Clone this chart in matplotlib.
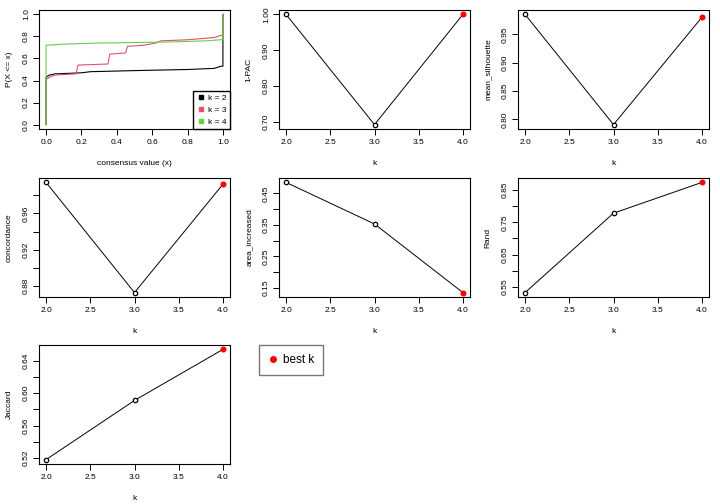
import matplotlib
matplotlib.use("Agg")
import matplotlib.pyplot as plt
from matplotlib.lines import Line2D

# k values and the per-k statistics
k = [2, 3, 4]
best_k = 4
stats = {
    "1-PAC": [1.00, 0.693, 1.00],
    "mean_silhouette": [0.985, 0.791, 0.980],
    "concordance": [0.994, 0.873, 0.992],
    "area_increased": [0.485, 0.353, 0.135],
    "Rand": [0.533, 0.778, 0.873],
    "Jaccard": [0.518, 0.591, 0.654],
}
yticks = {
    "1-PAC": [0.70, 0.80, 0.90, 1.00],
    "mean_silhouette": [0.80, 0.85, 0.90, 0.95],
    "concordance": [0.88, 0.90, 0.92, 0.94, 0.96, 0.98],
    "area_increased": [0.15, 0.20, 0.25, 0.30, 0.35, 0.40, 0.45],
    "Rand": [0.55, 0.60, 0.65, 0.70, 0.75, 0.80, 0.85],
    "Jaccard": [0.52, 0.54, 0.56, 0.58, 0.60, 0.62, 0.64],
}
ylabs = {
    "1-PAC": [0.70, 0.80, 0.90, 1.00],
    "mean_silhouette": [0.80, 0.85, 0.90, 0.95],
    "concordance": [0.88, 0.92, 0.96],
    "area_increased": [0.15, 0.25, 0.35, 0.45],
    "Rand": [0.55, 0.65, 0.75, 0.85],
    "Jaccard": [0.52, 0.56, 0.60, 0.64],
}

# ECDF of consensus values
k2_x = [0, 0, 0.02, 0.05, 0.2, 0.25, 0.5, 0.8, 0.95, 0.99, 1.0, 1.0]
k2_y = [0, 0.43, 0.45, 0.46, 0.47, 0.48, 0.49, 0.50, 0.51, 0.53, 0.53, 1.0]
k3_x = [0, 0, 0.02, 0.05, 0.17, 0.18, 0.35, 0.36, 0.45, 0.46, 0.55, 0.62, 0.65, 0.8, 0.95, 0.99, 1.0, 1.0]
k3_y = [0, 0.41, 0.43, 0.45, 0.46, 0.54, 0.55, 0.64, 0.65, 0.71, 0.72, 0.74, 0.76, 0.77, 0.79, 0.81, 0.81, 1.0]
k4_x = [0, 0, 0.1, 0.3, 0.5, 0.7, 0.9, 0.99, 1.0, 1.0]
k4_y = [0, 0.72, 0.73, 0.74, 0.745, 0.75, 0.76, 0.77, 0.77, 1.0]

plt.rcParams['font.family'] = 'Liberation Sans'
plt.rcParams['font.size'] = 6
plt.rcParams['axes.linewidth'] = 0.8
plt.rcParams['xtick.major.size'] = 4
plt.rcParams['ytick.major.size'] = 4
plt.rcParams['xtick.major.width'] = 0.7
plt.rcParams['ytick.major.width'] = 0.7

W, H = 720, 504
fig = plt.figure(figsize=(7.2, 5.04), dpi=100)

lefts = [39, 279, 518]
tops = [10, 178, 345]
pw, ph = 191, 119


def make_ax(row, col):
    l = lefts[col]
    t = tops[row]
    ax = fig.add_axes([l / W, 1 - (t + ph) / H, pw / W, ph / H])
    ax.tick_params(axis='y', labelrotation=90, pad=2.5)
    ax.tick_params(axis='x', pad=3.5)
    return ax


# panel 1: ECDF
ax = make_ax(0, 0)
ax.plot(k2_x, k2_y, color='black', lw=0.8)
ax.plot(k3_x, k3_y, color='#DF536B', lw=0.8)
ax.plot(k4_x, k4_y, color='#61D04F', lw=0.8)
ax.set_xlim(-0.04, 1.04)
ax.set_ylim(-0.04, 1.04)
ax.set_xticks([0, 0.2, 0.4, 0.6, 0.8, 1.0])
ax.set_yticks([0, 0.2, 0.4, 0.6, 0.8, 1.0])
ax.set_xticklabels(['0.0', '0.2', '0.4', '0.6', '0.8', '1.0'])
ax.set_yticklabels(['0.0', '0.2', '0.4', '0.6', '0.8', '1.0'], va='center')
ax.set_xlabel('consensus value (x)', labelpad=10)
ax.set_ylabel('P(X <= x)', labelpad=7.5)
handles = [Line2D([], [], marker='s', ls='', color=c, markersize=3)
           for c in ['black', '#DF536B', '#61D04F']]
ax.legend(handles, ['k = 2', 'k = 3', 'k = 4'], loc='lower right',
          borderaxespad=0, fancybox=False, edgecolor='black',
          handletextpad=0.2, handlelength=1.2, fontsize=6, framealpha=1)

# stat panels
positions = [(0, 1), (0, 2), (1, 0), (1, 1), (1, 2), (2, 0)]
for (name, vals), (r, c) in zip(stats.items(), positions):
    ax = make_ax(r, c)
    ax.plot(k, vals, color='black', lw=0.7, zorder=1)
    ax.scatter(k[:-1], vals[:-1], s=10, facecolor='white', edgecolor='black',
               linewidth=0.9, zorder=2)
    ax.scatter([best_k], [vals[k.index(best_k)]], s=11, color='red', zorder=3)
    lo, hi = min(vals), max(vals)
    pad = (hi - lo) * 0.04
    ax.set_ylim(lo - pad, hi + pad)
    ax.set_xlim(1.92, 4.08)
    ax.set_xticks([2.0, 2.5, 3.0, 3.5, 4.0])
    ax.set_xticklabels(['2.0', '2.5', '3.0', '3.5', '4.0'])
    ax.set_yticks(yticks[name])
    ax.set_yticklabels(['%.2f' % v if v in ylabs[name] else '' for v in yticks[name]],
                       va='center')
    ax.set_xlabel('k', labelpad=10)
    ax.set_ylabel(name, labelpad=7.5)

fig.legend([Line2D([], [], marker='o', ls='', color='red', markersize=4)],
           ['best k'], loc='upper left',
           bbox_to_anchor=(259 / W, 1 - 345 / H), borderaxespad=0,
           fancybox=False, edgecolor='#555555', fontsize=8.5,
           handletextpad=0.5, handlelength=0.8, borderpad=0.75)

fig.savefig('out.png', dpi=100)
